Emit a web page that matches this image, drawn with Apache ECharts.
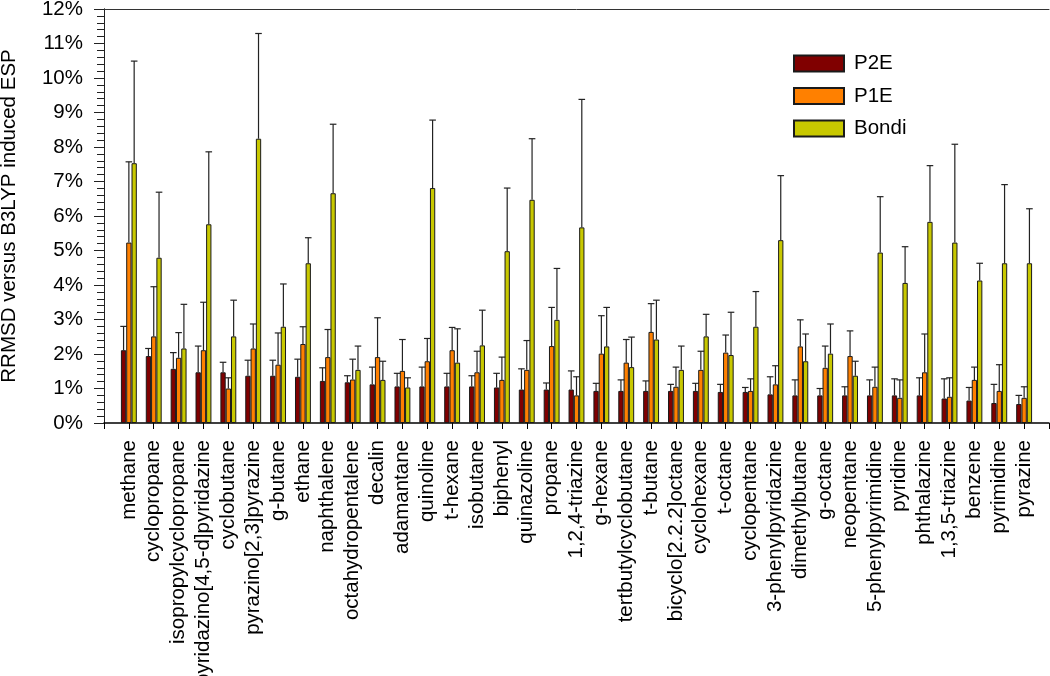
<!DOCTYPE html>
<html>
<head>
<meta charset="utf-8">
<script src="https://cdn.jsdelivr.net/npm/echarts@6/dist/echarts.min.js"></script>
<style>
html,body{margin:0;padding:0;background:#fff;}
#chart{width:1050px;height:676px;}
</style>
</head>
<body>
<div id="chart"></div>
<script>
const categories = ["methane","cyclopropane","isopropylcyclopropane","pyridazino[4,5-d]pyridazine","cyclobutane","pyrazino[2,3]pyrazine","g-butane","ethane","naphthalene","octahydropentalene","decalin","adamantane","quinoline","t-hexane","isobutane","biphenyl","quinazoline","propane","1,2,4-triazine","g-hexane","tertbutylcyclobutane","t-butane","bicyclo[2.2.2]octane","cyclohexane","t-octane","cyclopentane","3-phenylpyridazine","dimethylbutane","g-octane","neopentane","5-phenylpyrimidine","pyridine","phthalazine","1,3,5-triazine","benzene","pyrimidine","pyrazine"];
const p2e = [2.11,1.94,1.57,1.47,1.47,1.37,1.37,1.34,1.22,1.18,1.12,1.06,1.06,1.06,1.06,1.03,0.97,0.97,0.97,0.93,0.93,0.93,0.93,0.93,0.90,0.90,0.83,0.80,0.80,0.80,0.80,0.80,0.80,0.71,0.65,0.58,0.55];
const p2eHi = [2.80,2.16,2.04,2.23,1.76,1.82,1.82,1.85,1.60,1.37,1.62,1.44,1.62,1.44,1.37,1.44,1.57,1.16,1.51,1.15,1.25,1.22,1.12,1.15,1.12,1.03,1.34,1.25,1.00,1.05,1.25,1.28,1.31,1.28,1.03,1.12,0.80];
const p1e = [5.23,2.51,1.89,2.11,1.00,2.16,1.69,2.29,1.91,1.26,1.91,1.51,1.79,2.11,1.47,1.25,1.54,2.23,0.80,2.01,1.75,2.64,1.05,1.54,2.04,0.93,1.12,2.22,1.60,1.94,1.05,0.73,1.47,0.76,1.25,0.93,0.73];
const p1eHi = [7.57,3.95,2.62,3.50,1.31,2.87,2.61,2.79,2.71,1.85,3.05,2.42,2.45,2.77,2.08,1.91,2.39,3.35,1.34,3.11,2.42,3.46,1.62,2.08,2.55,1.28,1.66,2.99,2.23,2.67,1.62,1.25,2.58,1.31,1.62,1.69,1.05];
const bondi = [7.53,4.79,2.16,5.76,2.51,8.24,2.79,4.63,6.66,1.54,1.25,1.03,6.81,1.75,2.25,4.98,6.47,2.99,5.67,2.22,1.62,2.42,1.54,2.51,1.97,2.79,5.30,1.79,2.01,1.37,4.94,4.06,5.83,5.23,4.13,4.63,4.63];
const bondiHi = [10.49,6.69,3.44,7.86,3.56,11.29,4.03,5.37,8.66,2.23,1.79,1.31,8.78,2.73,3.27,6.81,8.24,4.48,9.38,3.35,2.49,3.56,2.23,3.15,3.21,3.81,7.17,2.58,2.87,1.79,6.56,5.11,7.46,8.08,4.63,6.91,6.21];
const seriesNames = ["P2E","P1E","Bondi"];
const seriesColors = ["#800000","#ff8000","#c8c800"];
const yTickValues = [0,1,2,3,4,5,6,7,8,9,10,11,12];

const FONT = "'Liberation Sans', Arial, sans-serif";
const BAR_W = 5.3;
const values = [p2e, p1e, bondi];
const highs = [p2eHi, p1eHi, bondiHi];

const chart = echarts.init(document.getElementById('chart'), null, {renderer: 'canvas'});

const barSeries = values.map((arr, s) => ({
  name: seriesNames[s],
  type: 'bar',
  xAxisIndex: 0,
  yAxisIndex: 0,
  barWidth: BAR_W,
  barGap: '0%',
  itemStyle: {color: seriesColors[s], borderColor: '#1a1a1a', borderWidth: 1},
  data: arr.map((v, i) => [i + 1, v]),
  z: 2
}));

const errSeries = values.map((arr, s) => ({
  name: seriesNames[s] + ' err',
  type: 'custom',
  xAxisIndex: 0,
  yAxisIndex: 0,
  z: 3,
  silent: true,
  data: arr.map((v, i) => [i + 1, v, highs[s][i]]),
  renderItem: function (params, api) {
    const base = api.coord([api.value(0), api.value(1)]);
    const top = api.coord([api.value(0), api.value(2)]);
    const x = base[0] + (s - 1) * BAR_W;
    const style = {stroke: '#222', lineWidth: 1.2};
    return {
      type: 'group',
      children: [
        {type: 'line', shape: {x1: x, y1: base[1], x2: x, y2: top[1]}, style: style},
        {type: 'line', shape: {x1: x - 3.3, y1: top[1], x2: x + 3.3, y2: top[1]}, style: style}
      ]
    };
  }
}));

const option = {
  backgroundColor: '#fff',
  animation: false,
  textStyle: {fontFamily: FONT},
  grid: {left: 104, right: 1, top: 9, bottom: 253, containLabel: false, outerBoundsMode: 'none'},
  legend: {
    orient: 'vertical',
    left: 793,
    top: 53,
    padding: 0,
    itemWidth: 50,
    itemHeight: 16,
    itemGap: 11.5,
    icon: 'rect',
    data: seriesNames,
    textStyle: {fontFamily: FONT, fontSize: 20.5, color: '#000', lineHeight: 16, padding: [0, 0, 0, 5]}
  },
  xAxis: [
    {
      type: 'value',
      position: 'bottom',
      min: 0,
      max: categories.length + 1,
      interval: 1,
      axisLine: {show: true, onZero: false, lineStyle: {color: '#000', width: 1.5}},
      axisTick: {show: true, length: 6, lineStyle: {color: '#000'}},
      splitLine: {show: false},
      axisLabel: {
        rotate: 90,
        margin: 17,
        fontSize: 20.5,
        fontFamily: FONT,
        color: '#000',
        showMinLabel: true,
        showMaxLabel: true,
        formatter: function (v) { return categories[Math.round(v) - 1] || ''; }
      }
    },
    {
      type: 'value',
      position: 'top',
      min: 0,
      max: categories.length + 1,
      axisLine: {show: true, onZero: false, lineStyle: {color: '#333', width: 1}},
      axisTick: {show: false},
      axisLabel: {show: false},
      splitLine: {show: false}
    }
  ],
  yAxis: [
    {
      type: 'value',
      position: 'left',
      min: yTickValues[0],
      max: yTickValues[yTickValues.length - 1],
      interval: 1,
      name: 'RRMSD versus B3LYP induced ESP',
      nameLocation: 'middle',
      nameGap: 84,
      nameTextStyle: {fontFamily: FONT, fontSize: 20.5, color: '#000'},
      axisLine: {show: true, lineStyle: {color: '#222', width: 1}},
      axisTick: {show: true, length: 10, lineStyle: {color: '#222'}},
      minorTick: {show: true, splitNumber: 5, length: 7, lineStyle: {color: '#222'}},
      splitLine: {show: false},
      axisLabel: {fontSize: 20.5, fontFamily: FONT, color: '#000', margin: 21, formatter: '{value}%'}
    },
    {
      type: 'value',
      position: 'right',
      min: yTickValues[0],
      max: yTickValues[yTickValues.length - 1],
      interval: 1,
      axisLine: {show: true, lineStyle: {color: '#222', width: 1}},
      axisTick: {show: true, inside: true, length: 6, lineStyle: {color: '#222'}},
      minorTick: {show: true, splitNumber: 5, length: 5, lineStyle: {color: '#222'}},
      splitLine: {show: false},
      axisLabel: {show: false}
    }
  ],
  series: barSeries.concat(errSeries)
};

chart.setOption(option);
</script>
</body>
</html>
